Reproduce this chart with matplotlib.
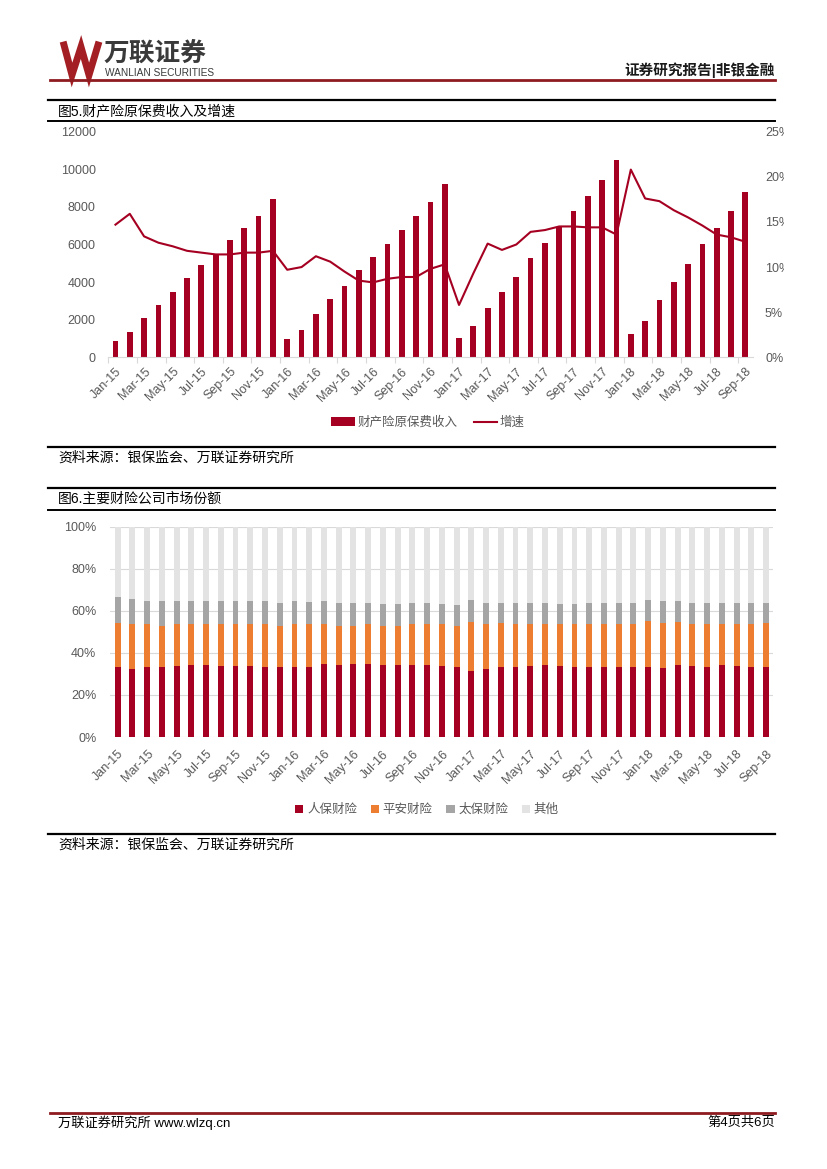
import matplotlib
matplotlib.use("Agg")
import matplotlib.pyplot as plt
from matplotlib.lines import Line2D
from matplotlib.transforms import Bbox, TransformedBbox
import numpy as np
import pandas as pd

W, H = 827, 1169
plt.rcParams['font.family'] = ['Liberation Sans', 'Noto Sans CJK SC', 'DejaVu Sans']

# ── Daten ────────────────────────────────────────────────────────────────────
months = pd.date_range('2015-01-01', periods=45, freq='MS').strftime('%b-%y').tolist()

# 财产险原保费收入 (累计, 亿元)
premium = [880, 1360, 2110, 2800, 3470, 4230, 4930, 5440, 6250, 6890, 7520, 8420,
           990, 1470, 2320, 3100, 3810, 4640, 5350, 6040, 6790, 7520, 8280, 9220,
           1030, 1670, 2620, 3470, 4290, 5300, 6080, 6950, 7800, 8580, 9430, 10500,
           1240, 1930, 3050, 4010, 4960, 6030, 6880, 7800, 8790]
# 增速 (%)
growth = [14.7, 15.9, 13.4, 12.7, 12.3, 11.8, 11.6, 11.4, 11.4, 11.6, 11.6, 11.8,
          9.7, 10.0, 11.2, 10.6, 9.5, 8.5, 8.3, 8.7, 8.9, 8.9, 9.8, 10.3,
          5.8, 9.3, 12.6, 11.9, 12.5, 13.9, 14.1, 14.5, 14.5, 14.4, 14.4, 13.6,
          20.8, 17.6, 17.3, 16.3, 15.5, 14.6, 13.6, 13.3, 12.8]

# 市场份额 (%)
picc = [33.1, 32.3, 33.1, 33.1, 33.8, 34.2, 34.2, 33.8, 33.8, 33.8, 33.1, 33.1,
        33.1, 33.1, 34.7, 34.2, 34.7, 34.7, 34.2, 34.2, 34.2, 34.2, 33.8, 33.1,
        31.4, 32.3, 33.1, 33.1, 33.8, 34.2, 33.8, 33.1, 33.1, 33.1, 33.1, 33.1,
        33.1, 32.8, 34.2, 33.8, 33.1, 34.2, 33.8, 33.1, 33.1]
pingan = [20.9, 21.4, 20.6, 19.8, 19.9, 19.5, 19.5, 19.9, 19.9, 19.9, 20.6, 19.8,
          20.6, 20.6, 19.0, 18.7, 18.2, 19.0, 18.7, 18.7, 19.5, 19.5, 19.9, 19.8,
          23.4, 21.4, 20.9, 20.6, 19.9, 19.5, 19.9, 20.6, 20.6, 20.6, 20.6, 20.6,
          22.2, 21.6, 20.6, 19.9, 20.6, 19.5, 19.9, 20.6, 20.9]
cpic = [12.6, 12.1, 11.0, 11.8, 11.0, 11.0, 11.0, 11.0, 11.0, 11.0, 11.0, 10.8,
        11.0, 10.5, 11.0, 10.8, 10.8, 10.0, 10.3, 10.3, 10.0, 10.0, 9.5, 9.9,
        10.3, 10.0, 9.7, 10.0, 10.0, 10.0, 9.5, 9.5, 10.0, 10.0, 10.0, 10.0,
        9.8, 10.3, 9.9, 10.0, 10.0, 10.0, 10.0, 10.0, 9.7]
others = [33.4, 34.2, 35.3, 35.3, 35.3, 35.3, 35.3, 35.3, 35.3, 35.3, 35.3, 36.3,
          35.3, 35.8, 35.3, 36.3, 36.3, 36.3, 36.8, 36.8, 36.3, 36.3, 36.8, 37.2,
          34.9, 36.3, 36.3, 36.3, 36.3, 36.3, 36.8, 36.8, 36.3, 36.3, 36.3, 36.3,
          34.9, 35.3, 35.3, 36.3, 36.3, 36.3, 36.3, 36.3, 36.3]
share_names = ['人保财险', '平安财险', '太保财险', '其他']

# ── Farben ───────────────────────────────────────────────────────────────────
C_RED = '#A50021'
C_ORG = '#ED7D31'
C_GRY = '#A5A5A5'
C_LGT = '#E3E3E3'
C_TXT = '#595959'
C_AX = '#D9D9D9'
C_HDR = '#8E1B1F'


def fx(px):
    return px / W


def fy(py):
    return 1 - py / H


def hline(y, x0=48, x1=775, color='black', lw=1.6):
    fig.add_artist(Line2D([fx(x0), fx(x1)], [fy(y), fy(y)], color=color, lw=lw))


fig = plt.figure(figsize=(W / 100, H / 100), dpi=100, facecolor='white')

# ── Kopfzeile ────────────────────────────────────────────────────────────────
fig.add_artist(Line2D([fx(x) for x in (64, 72, 81, 89, 98)],
                      [fy(y) for y in (45, 75, 47, 75, 45)],
                      color='#A31F24', lw=5.0, solid_joinstyle='miter'))
fig.text(fx(104), fy(61), '万联证券', fontsize=18.5, fontweight='bold',
         color='#3A3A3A', va='baseline')
fig.text(fx(105), fy(76), 'WANLIAN SECURITIES', fontsize=7.3,
         color='#3A3A3A', va='baseline')
fig.text(fx(775), fy(75), '证券研究报告|非银金融', fontsize=10.5,
         fontweight='bold', ha='right', va='baseline', color='#1a1a1a')
hline(80, 50, 775, color=C_HDR, lw=2)

# ── Fig.5 ────────────────────────────────────────────────────────────────────
hline(100)
fig.text(fx(58), fy(111), '图5.财产险原保费收入及增速', fontsize=10, va='center')
hline(121, lw=1.4)

x = np.arange(len(months))
ax1 = fig.add_axes([fx(108.3), fy(357.3), (752.5 - 108.3) / W, (357.3 - 131.7) / H])
bars = ax1.bar(x, premium, width=0.4, color=C_RED, label='财产险原保费收入')
ax1.set_xlim(-0.5, len(months) - 0.5)
ax1.set_ylim(0, 12000)
ax1.set_yticks(range(0, 12001, 2000))
for s in ('top', 'left', 'right'):
    ax1.spines[s].set_visible(False)
ax1.spines['bottom'].set_color(C_AX)
ax1.tick_params(axis='y', length=0, labelsize=9, labelcolor=C_TXT, pad=9)
ax1.set_xticks(np.arange(-0.5, len(months) - 0.5, 2))
ax1.set_xticklabels([])
ax1.tick_params(axis='x', which='major', length=4, color=C_AX)
ax1.set_xticks(x[::2], minor=True)
ax1.set_xticklabels(months[::2], minor=True, rotation=45, ha='right', va='top',
                    rotation_mode='anchor', fontsize=9, color=C_TXT)
ax1.tick_params(axis='x', which='minor', length=0, pad=6)

ax1r = ax1.twinx()
line, = ax1r.plot(x, growth, color=C_RED, lw=1.5, label='增速')
ax1r.set_ylim(0, 25)
ax1r.set_yticks(range(0, 26, 5))
ax1r.set_yticklabels([f'{v}%' for v in range(0, 26, 5)])
for s in ('top', 'left', 'right', 'bottom'):
    ax1r.spines[s].set_visible(False)
ax1r.tick_params(axis='y', length=0, labelsize=9, labelcolor=C_TXT, pad=9)
clip = TransformedBbox(Bbox.from_extents(0, 0, fx(784), 1), fig.transFigure)
for t in ax1r.get_yticklabels():
    t.set_clip_box(clip)
    t.set_clip_on(True)

fig.legend([bars, line], ['财产险原保费收入', '增速'], loc='center',
           bbox_to_anchor=(fx(428), fy(423)), ncol=2, frameon=False,
           fontsize=9, handlelength=1.9, handleheight=0.7, handletextpad=0.2,
           columnspacing=1.3, labelcolor=C_TXT)

hline(447)
fig.text(fx(58), fy(458), '资料来源：银保监会、万联证券研究所', fontsize=10,
         style='italic', va='center')

# ── Fig.6 ────────────────────────────────────────────────────────────────────
hline(488)
fig.text(fx(58), fy(499), '图6.主要财险公司市场份额', fontsize=10, va='center')
hline(510, lw=1.4)

ax2 = fig.add_axes([fx(110.3), fy(737), (773.4 - 110.3) / W, (737 - 526.7) / H])
bottom = np.zeros(len(months))
handles = []
for vals, col, name in zip([picc, pingan, cpic, others],
                           [C_RED, C_ORG, C_GRY, C_LGT], share_names):
    b = ax2.bar(x, vals, width=0.4, bottom=bottom, color=col, label=name, zorder=2)
    handles.append(b)
    bottom += np.array(vals)
ax2.set_xlim(-0.5, len(months) - 0.5)
ax2.set_ylim(0, 100)
ax2.set_yticks(range(0, 101, 20))
ax2.set_yticklabels([f'{v}%' for v in range(0, 101, 20)])
ax2.grid(axis='y', color=C_AX, lw=0.8, zorder=0)
ax2.set_axisbelow(True)
for s in ax2.spines.values():
    s.set_visible(False)
ax2.tick_params(axis='y', length=0, labelsize=9, labelcolor=C_TXT, pad=10)
ax2.set_xticks(x[::2])
ax2.set_xticklabels(months[::2], rotation=45, ha='right', va='top',
                    rotation_mode='anchor', fontsize=9, color=C_TXT)
ax2.tick_params(axis='x', length=0, pad=8)

fig.legend(handles, share_names, loc='center', bbox_to_anchor=(fx(427), fy(810)),
           ncol=4, frameon=False, fontsize=9, handlelength=0.65, handleheight=0.65,
           handletextpad=0.3, columnspacing=1.1, labelcolor=C_TXT)

hline(834)
fig.text(fx(58), fy(845), '资料来源：银保监会、万联证券研究所', fontsize=10,
         style='italic', va='center')

# ── Fußzeile ─────────────────────────────────────────────────────────────────
hline(1113, 50, 775, color=C_HDR, lw=2)
fig.text(fx(58), fy(1123), '万联证券研究所 www.wlzq.cn', fontsize=9.5, va='center')
fig.text(fx(775), fy(1123), '第4页共6页', fontsize=9.5, va='center', ha='right')

fig.savefig('out.png', dpi=100, facecolor='white')
